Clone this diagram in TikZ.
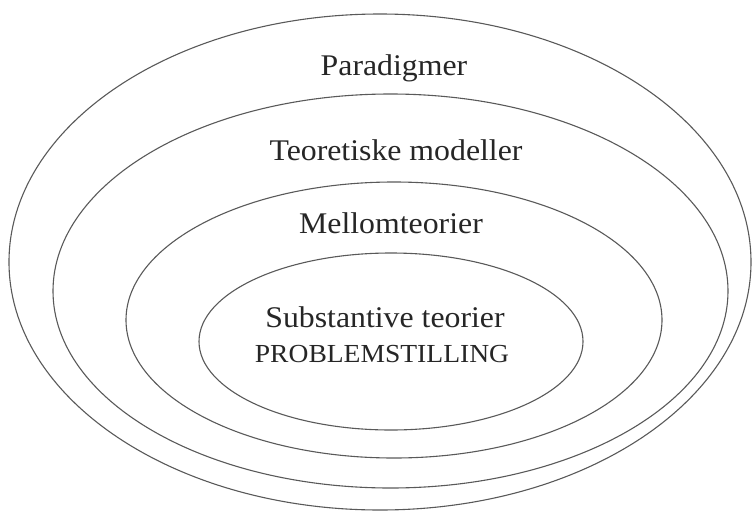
\documentclass[tikz,border=0pt]{standalone}
\usepackage{fontspec}
\usepackage{graphicx}
\setmainfont{Liberation Serif}
\newcommand{\widetxt}[1]{\scalebox{1.06}[1]{#1}}
\begin{document}
\begin{tikzpicture}[x=1pt,y=-1pt,
  ring/.style={draw=black!65,line width=1.1pt},
  lbl/.style={anchor=base,inner sep=0pt,font=\fontsize{30}{36}\selectfont,text=black!85},
  caps/.style={anchor=base,inner sep=0pt,font=\fontsize{26}{30}\selectfont,text=black!85}]
\useasboundingbox (0,0) rectangle (753,512);
\draw[ring] (380,262) ellipse [x radius=371,y radius=248];
\draw[ring] (390.5,291) ellipse [x radius=337.5,y radius=197];
\draw[ring] (394,320) ellipse [x radius=268,y radius=138];
\draw[ring] (391,341.5) ellipse [x radius=192,y radius=88.5];
\node[lbl] (p) at (394,75) {\widetxt{Paradigmer}};
\node[lbl] (t) at (396,160) {\widetxt{Teoretiske modeller}};
\node[lbl] (m) at (391,233) {\widetxt{Mellomteorier}};
\node[lbl] (s) at (385,327) {\widetxt{Substantive teorier}};
\node[caps] (ps) at (382,362) {\widetxt{PROBLEMSTILLING}};
\end{tikzpicture}
\end{document}
